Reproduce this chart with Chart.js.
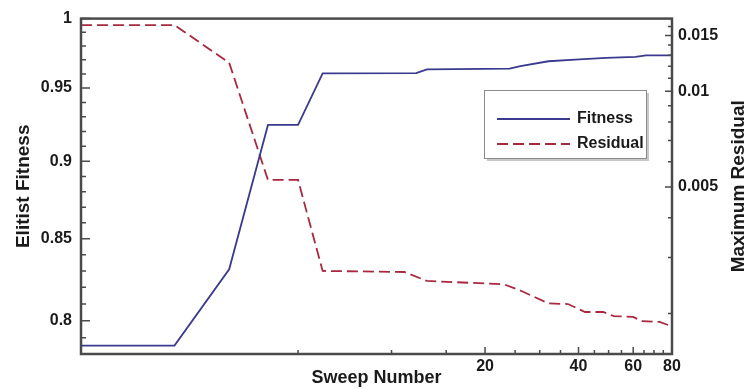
<!DOCTYPE html>
<html lang="en">
<head>
<meta charset="UTF-8">
<title>Elitist Fitness and Maximum Residual</title>
<script src="https://cdn.jsdelivr.net/npm/chart.js"></script>
<style>
  html, body { margin: 0; padding: 0; background: #fff; }
  #wrap { width: 747px; height: 390px; }
</style>
</head>
<body>
<div id="wrap"><canvas id="sweep-chart"></canvas></div>
<script>
// best fitness in the population after each sweep
const fitnessSweeps = [1, 2, 3, 4, 5, 6, 12, 13, 24, 26, 32, 39, 49, 61, 66, 80];
const fitness = [0.7855, 0.7855, 0.831, 0.9245, 0.9245, 0.9604, 0.9605, 0.9632, 0.9638, 0.9655, 0.969, 0.9702, 0.9714, 0.9721, 0.9732, 0.9732];

// largest residual after each sweep
const residualSweeps = [1, 2, 3, 4, 5, 6, 11, 13, 23, 26, 32, 37, 42, 48, 52, 60, 64, 73, 80];
const residual = [0.01616, 0.01616, 0.0123, 0.00526, 0.00526, 0.00272, 0.0027, 0.00253, 0.00247, 0.00236, 0.00215, 0.00214, 0.00202, 0.00202, 0.00196, 0.00195, 0.00189, 0.00188, 0.00182];

// labelled ticks
const sweepLabels = ['20', '40', '60', '80'];
const fitnessLabels = ['0.8', '0.85', '0.9', '0.95', '1'];
const residualLabels = ['0.005', '0.01', '0.015'];

const AXIS = '#4a4a4a';
const TICK_FONT = { family: 'Liberation Sans, Arial, sans-serif', size: 16, weight: 'bold' };
const TITLE_FONT = { family: 'Liberation Sans, Arial, sans-serif', size: 19, weight: 'bold' };

// evenly stepped tick marks, flagged major where a label sits
function stepTicks(from, to, step, labels) {
    const out = [];
    const n = Math.round((to - from) / step);
    for (let i = 0; i <= n; i++) {
        const v = +(from + i * step).toFixed(6);
        out.push({ value: v, major: labels.some(l => Math.abs(+l - v) < step / 10) });
    }
    return out;
}

function labelFor(labels) {
    return function (value, index, ticks) {
        if (!ticks[index].major) return '';
        return labels.find(l => Math.abs(+l - value) < 1e-6) || '';
    };
}

function lineData(xs, ys) {
    return xs.map((x, i) => ({ x: x, y: ys[i] }));
}

// frame, inward tick marks, legend and the right-hand title
const framePlugin = {
    id: 'frame',
    afterDatasetsDraw(chart) {
        const { ctx, chartArea: a, scales } = chart;
        ctx.save();
        ctx.strokeStyle = AXIS;
        ctx.lineWidth = 1.5;
        ctx.beginPath();
        scales.x.ticks.forEach(t => {
            const p = scales.x.getPixelForValue(t.value);
            ctx.moveTo(p, a.bottom);
            ctx.lineTo(p, a.bottom - (t.major ? 7 : 4));
        });
        scales.y.ticks.forEach(t => {
            const p = scales.y.getPixelForValue(t.value);
            ctx.moveTo(a.left, p);
            ctx.lineTo(a.left + (t.major ? 9 : 5), p);
        });
        scales.y1.ticks.forEach(t => {
            const p = scales.y1.getPixelForValue(t.value);
            ctx.moveTo(a.right, p);
            ctx.lineTo(a.right - (t.major ? 7 : 4), p);
        });
        ctx.stroke();
        ctx.lineWidth = 2.5;
        ctx.strokeRect(a.left, a.top, a.right - a.left, a.bottom - a.top);
        ctx.restore();
    },
    afterDraw(chart) {
        const { ctx, chartArea: a } = chart;
        ctx.save();

        // legend box
        const bx = 484, by = 90, bw = 162, bh = 68;
        ctx.fillStyle = '#c8c8c8';
        ctx.fillRect(bx + 3, by + 3, bw, bh);
        ctx.fillStyle = '#fff';
        ctx.fillRect(bx, by, bw, bh);
        ctx.strokeStyle = '#8a8a8a';
        ctx.lineWidth = 1;
        ctx.strokeRect(bx + 0.5, by + 0.5, bw, bh);

        ctx.font = 'bold 16px Liberation Sans, Arial, sans-serif';
        ctx.textBaseline = 'middle';
        chart.data.datasets.forEach((ds, i) => {
            const y = by + 29 + i * 25;
            ctx.strokeStyle = ds.borderColor;
            ctx.lineWidth = ds.borderWidth;
            ctx.setLineDash(ds.borderDash || []);
            ctx.beginPath();
            ctx.moveTo(bx + 13, y);
            ctx.lineTo(bx + 86, y);
            ctx.stroke();
            ctx.setLineDash([]);
            ctx.fillStyle = '#1a1a1a';
            ctx.fillText(ds.label, bx + 93, y);
        });

        // right axis title reads bottom to top
        ctx.translate(739, (a.top + a.bottom) / 2);
        ctx.rotate(-Math.PI / 2);
        ctx.font = 'bold 19px Liberation Sans, Arial, sans-serif';
        ctx.textAlign = 'center';
        ctx.textBaseline = 'middle';
        ctx.fillStyle = '#1a1a1a';
        ctx.fillText('Maximum Residual', 0, 0);
        ctx.restore();
    }
};

new Chart(document.getElementById('sweep-chart'), {
    type: 'line',
    data: {
        datasets: [
            {
                label: 'Fitness',
                data: lineData(fitnessSweeps, fitness),
                yAxisID: 'y',
                borderColor: '#3a3a8e',
                borderWidth: 1.8,
                pointRadius: 0,
                tension: 0
            },
            {
                label: 'Residual',
                data: lineData(residualSweeps, residual),
                yAxisID: 'y1',
                borderColor: '#a8283e',
                borderWidth: 1.8,
                borderDash: [11, 5],
                pointRadius: 0,
                tension: 0
            }
        ]
    },
    options: {
        responsive: true,
        maintainAspectRatio: false,
        animation: false,
        layout: { padding: { top: 13, left: 0, right: 0, bottom: 0 } },
        plugins: { legend: { display: false }, tooltip: { enabled: false } },
        scales: {
            x: {
                type: 'logarithmic',
                min: 1,
                max: 80,
                grid: { display: false, drawTicks: false },
                border: { display: false },
                afterBuildTicks: s => { s.ticks = stepTicks(5, 80, 5, sweepLabels); },
                afterFit: s => { s.height = 36; },
                ticks: {
                    autoSkip: false,
                    maxRotation: 0,
                    padding: 3,
                    color: '#1a1a1a',
                    font: TICK_FONT,
                    callback: labelFor(sweepLabels)
                },
                title: {
                    display: true,
                    text: 'Sweep Number',
                    color: '#1a1a1a',
                    font: { family: TITLE_FONT.family, size: 18, weight: 'bold' },
                    padding: { top: 0, bottom: 1 }
                }
            },
            y: {
                type: 'logarithmic',
                position: 'left',
                min: 0.7806,
                max: 1,
                grid: { display: false, drawTicks: false },
                border: { display: false },
                afterBuildTicks: s => { s.ticks = stepTicks(0.79, 1, 0.01, fitnessLabels); },
                afterFit: s => { s.width = 81; },
                ticks: {
                    autoSkip: false,
                    padding: 9,
                    color: '#1a1a1a',
                    font: TICK_FONT,
                    callback: labelFor(fitnessLabels)
                },
                title: {
                    display: true,
                    text: 'Elitist Fitness',
                    color: '#1a1a1a',
                    font: TITLE_FONT,
                    padding: { top: 12, bottom: 0 }
                }
            },
            y1: {
                type: 'logarithmic',
                position: 'right',
                min: 0.00149,
                max: 0.01694,
                grid: { display: false, drawTicks: false },
                border: { display: false },
                afterBuildTicks: s => { s.ticks = stepTicks(0.002, 0.016, 0.001, residualLabels); },
                afterFit: s => { s.width = 75; },
                ticks: {
                    autoSkip: false,
                    padding: 6,
                    color: '#1a1a1a',
                    font: TICK_FONT,
                    callback: labelFor(residualLabels)
                }
            }
        }
    },
    plugins: [framePlugin]
});
</script>
</body>
</html>
